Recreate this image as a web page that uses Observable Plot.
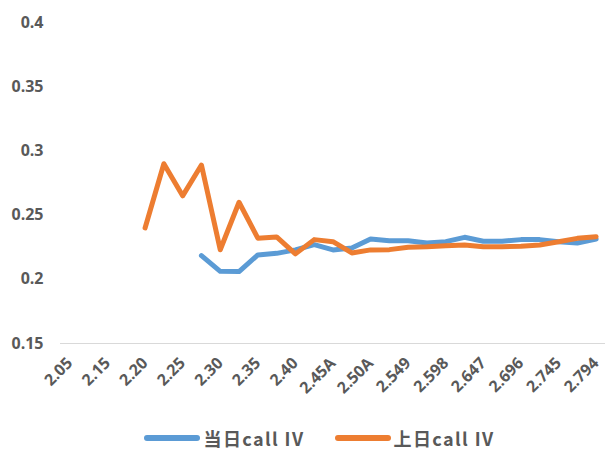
<!DOCTYPE html>
<html>
<head>
<meta charset="utf-8">
<script src="https://cdn.jsdelivr.net/npm/d3@7"></script>
<script src="https://cdn.jsdelivr.net/npm/@observablehq/plot@0.6"></script>
<style>
  html, body { margin: 0; padding: 0; background: #fff; overflow: hidden; }
  #wrap { position: relative; width: 605px; height: 452px; overflow: hidden; }
  #chart svg { display: block; }
  #chart svg text { font-size: 16px; font-weight: bold; fill: #595959; font-family: "Open Sans", "Noto Sans CJK SC", sans-serif; }
  #legend { position: absolute; left: 0; top: 427px; width: 605px; height: 22px; box-sizing: border-box; padding-left: 34px;
    display: flex; justify-content: center; align-items: center; gap: 30px;
    font-family: "Noto Sans CJK SC", "Open Sans", sans-serif; font-weight: bold; font-size: 18px; line-height: 22px; letter-spacing: 1.4px; color: #595959; }
  .item { display: flex; align-items: center; }
  .sw { width: 56px; height: 6px; border-radius: 3px; margin-right: 3px; }
</style>
</head>
<body>
<div id="wrap">
  <div id="chart"></div>
  <div id="legend"></div>
</div>
<script>
const strikes = ["2.05","2.10","2.15","2.15A","2.20","2.20A","2.25","2.25A","2.30","2.30A","2.35","2.35A","2.40","2.40A","2.45A","2.45","2.50A","2.50","2.549","2.55","2.598","2.60","2.647","2.65","2.696","2.70","2.745","2.75","2.794"];
const todayIV = [null,null,null,null,null,null,null,0.2184,0.2062,0.2060,0.2190,0.2202,0.2229,0.2270,0.2229,0.2244,0.2314,0.2301,0.2300,0.2283,0.2293,0.2327,0.2296,0.2296,0.2309,0.2309,0.2293,0.2283,0.2314];
const prevIV = [null,null,null,null,0.240,0.290,0.265,0.289,0.223,0.260,0.232,0.233,0.2198,0.2309,0.2293,0.2205,0.2229,0.2231,0.2250,0.2254,0.2262,0.2267,0.2254,0.2254,0.2257,0.2267,0.2293,0.2319,0.2332];
const seriesNames = ["当日call IV", "上日call IV"];
const seriesColors = ["#5B9BD5", "#ED7D31"];
const yTicks = [0.15, 0.2, 0.25, 0.3, 0.35, 0.4];

const rows = [];
[todayIV, prevIV].forEach((arr, s) => {
  arr.forEach((v, i) => rows.push({idx: i, strike: strikes[i], iv: v, series: seriesNames[s]}));
});
const shownTicks = d3.range(0, strikes.length, 2);

const chart = Plot.plot({
  width: 605,
  height: 425,
  marginTop: 22,
  marginBottom: 82,
  marginLeft: 60,
  marginRight: 0,
  style: {fontFamily: "'Open Sans', 'Noto Sans CJK SC', sans-serif", fontWeight: "bold", fontSize: "16px", color: "#595959", background: "#fff", overflow: "visible"},
  x: {type: "linear", domain: [-0.5, strikes.length - 0.5], label: null},
  y: {domain: [0.15, 0.4], label: null},
  color: {domain: seriesNames, range: seriesColors},
  marks: [
    Plot.ruleY([0.15], {stroke: "#d9d9d9", strokeWidth: 1}),
    Plot.axisY({ticks: yTicks, tickSize: 0, tickPadding: 17, tickFormat: d => String(+d.toFixed(2)), label: null}),
    Plot.axisX({ticks: shownTicks, tickSize: 0, tickPadding: 17, tickRotate: -45, tickFormat: i => strikes[i], label: null}),
    Plot.line(rows, {x: "idx", y: "iv", z: "series", stroke: "series", strokeWidth: 5, strokeLinecap: "round", strokeLinejoin: "round"})
  ]
});
document.getElementById("chart").appendChild(chart);

const legend = document.getElementById("legend");
seriesNames.forEach((n, i) => {
  const it = document.createElement("div");
  it.className = "item";
  it.innerHTML = `<span class="sw" style="background:${seriesColors[i]}"></span><span>${n}</span>`;
  legend.appendChild(it);
});
</script>
</body>
</html>
